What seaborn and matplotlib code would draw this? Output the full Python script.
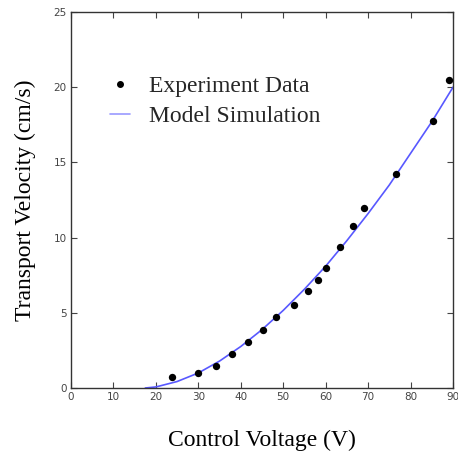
import matplotlib
matplotlib.use("Agg")
import matplotlib.pyplot as plt
import seaborn as sns
import pandas as pd
from matplotlib.lines import Line2D

# Experiment data
exp_voltage = [23.8, 29.9, 34.2, 37.9, 41.7, 45.2, 48.3, 52.5, 55.8, 58.2, 60.1, 63.4, 66.4, 69.0, 76.6, 85.3, 89.1]
exp_velocity = [0.73, 1.0, 1.46, 2.26, 3.06, 3.86, 4.72, 5.5, 6.45, 7.2, 8.0, 9.4, 10.8, 12.0, 14.2, 17.75, 20.5]

# Model simulation curve
model_voltage = [17.5, 20, 25, 30, 35, 40, 45, 50, 55, 60, 65, 70, 75, 80, 85, 90]
model_velocity = [0.0, 0.07, 0.43, 1.0, 1.79, 2.76, 3.88, 5.16, 6.57, 8.1, 9.8, 11.6, 13.5, 15.6, 17.7, 20.0]

x_ticks = [0, 10, 20, 30, 40, 50, 60, 70, 80, 90]
y_ticks = [0, 5, 10, 15, 20, 25]

df_exp = pd.DataFrame({"V": exp_voltage, "v": exp_velocity})
df_mod = pd.DataFrame({"V": model_voltage, "v": model_velocity})

sns.set_style("ticks")
plt.rcParams["font.family"] = ["DejaVu Sans"]

fig = plt.figure(figsize=(4.58, 4.55), dpi=100)
ax = fig.add_axes([71/458, 67/455, 382/458, 376/455])

sns.lineplot(data=df_mod, x="V", y="v", ax=ax, color="#5858ff", linewidth=1.2,
             zorder=2, legend=False)
sns.scatterplot(data=df_exp, x="V", y="v", ax=ax, color="black", s=28,
                edgecolor="black", linewidth=0, zorder=3, legend=False)

ax.set_xlim(0, 90)
ax.set_ylim(0, 25)
ax.set_xticks(x_ticks)
ax.set_yticks(y_ticks)
ax.tick_params(direction="in", top=True, right=True, length=4, width=0.8,
               labelsize=7.5, colors="#444444", pad=3)
for s in ax.spines.values():
    s.set_color("#333333")
    s.set_linewidth(1.0)

serif = ["Liberation Serif", "DejaVu Serif"]
ax.set_xlabel("Control Voltage (V)", family=serif, fontsize=17, labelpad=20, color="black")
ax.set_ylabel("Transport Velocity (cm/s)", family=serif, fontsize=17, labelpad=13, color="black")

h_exp = Line2D([], [], marker="o", color="black", linestyle="none", markersize=4)
h_mod = Line2D([], [], color="#9999ff", linewidth=1.2)
leg = ax.legend([h_exp, h_mod], ["Experiment Data", "Model Simulation"],
                loc="upper left", bbox_to_anchor=(0.102, 0.83), frameon=False,
                borderaxespad=0, borderpad=0,
                prop={"family": serif, "size": 17}, handlelength=0.85,
                handletextpad=0.8, labelspacing=0.33)

fig.savefig("out.png", dpi=100, facecolor="white")
